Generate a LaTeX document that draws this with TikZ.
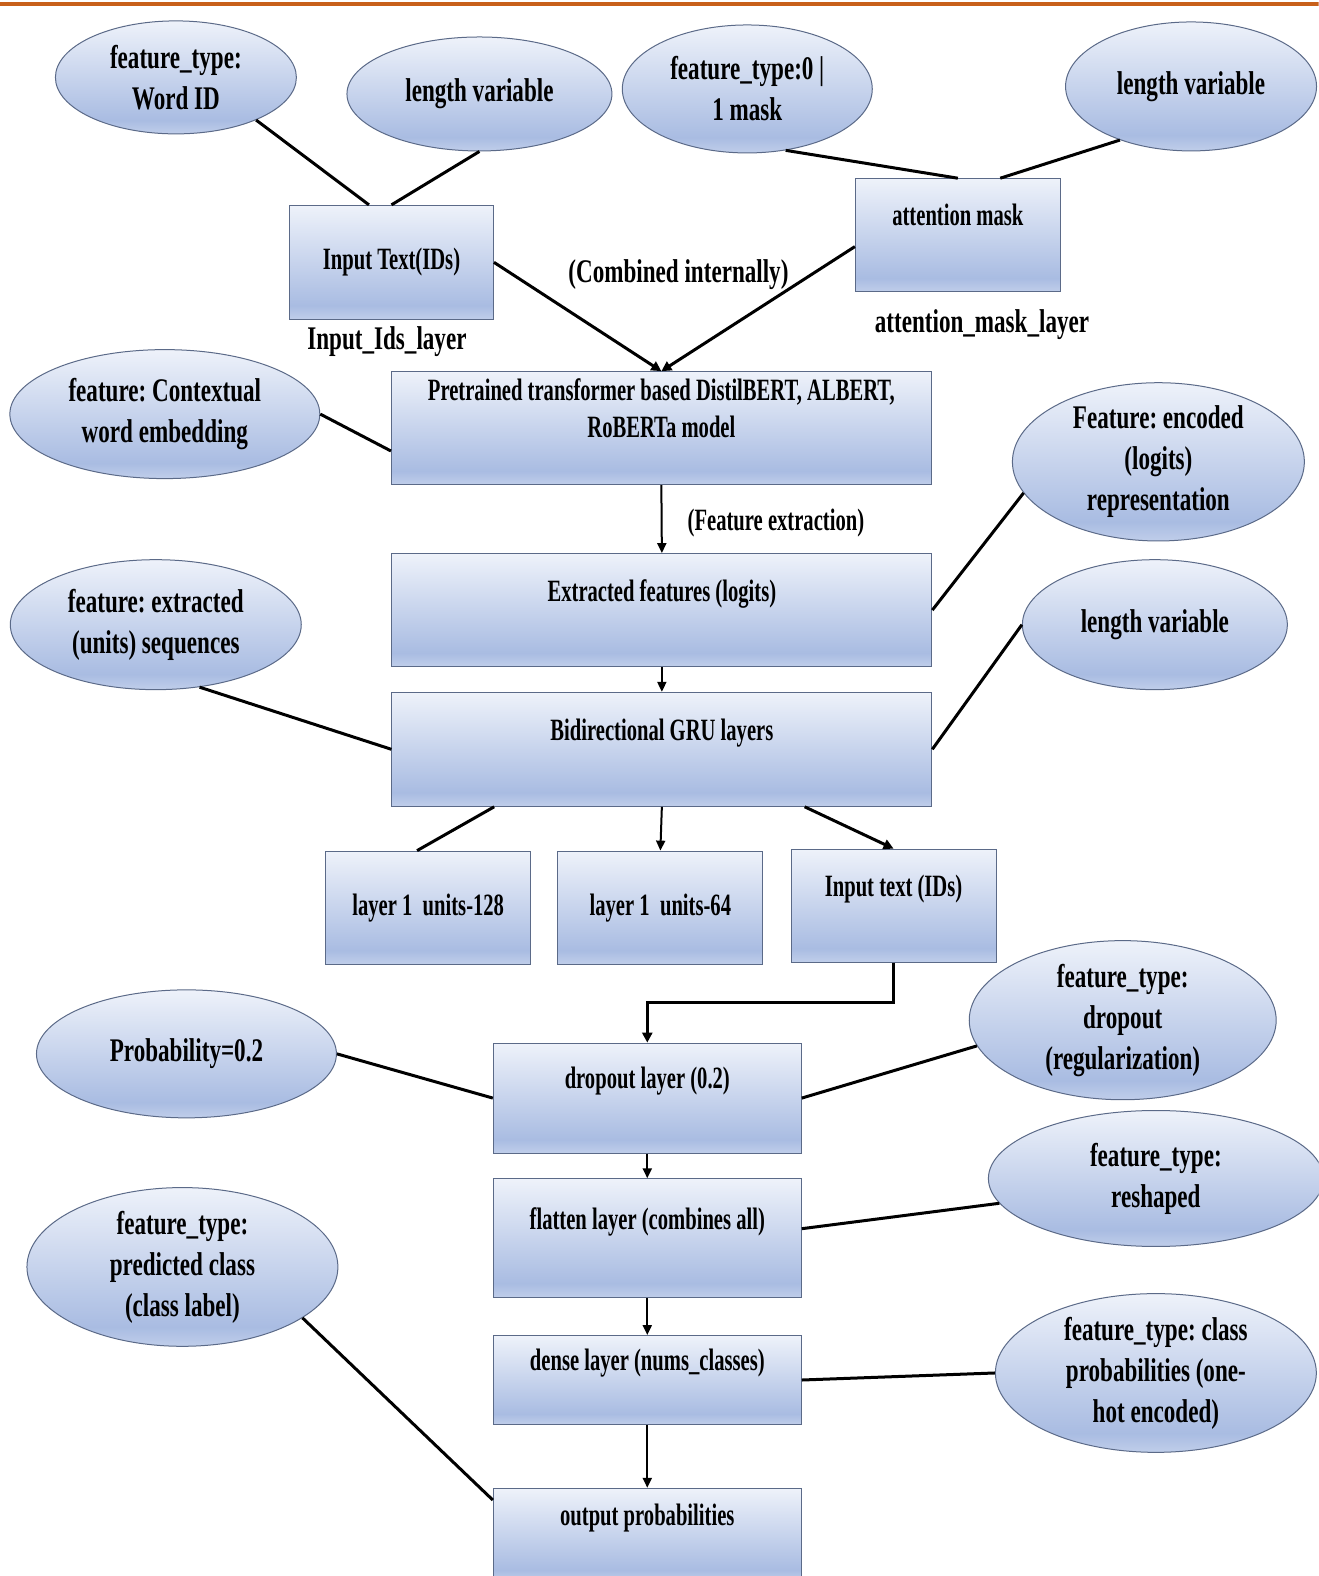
\documentclass[tikz,border=0pt]{standalone}
\usepackage{fontspec}
\setmainfont{Liberation Serif}[FakeStretch=0.70]
\newfontfamily\boxfont{Liberation Serif}[FakeStretch=0.665]
\usetikzlibrary{shapes.geometric,calc,arrows.meta}
\definecolor{gtop}{HTML}{EEF2FA}
\definecolor{gmid}{HTML}{A9BCE2}
\definecolor{gbot}{HTML}{C0CEEA}
\definecolor{edgec}{HTML}{5B6A88}
\definecolor{topline}{HTML}{C8601A}
\pgfdeclareverticalshading{office}{100bp}{color(0bp)=(gbot); color(25bp)=(gbot); color(31bp)=(gmid); color(75bp)=(gtop); color(100bp)=(gtop)}
\tikzset{
  base/.style={font=\fontsize{33}{41}\selectfont\bfseries\frenchspacing, text=black},
  small/.style={font=\boxfont\fontsize{31}{37}\selectfont\bfseries\frenchspacing, text=black},
  box/.style={small, draw=edgec, line width=1pt, shading=office, rectangle, inner sep=0pt, align=center},
  boxup/.style={box, text depth=40pt},
  ell/.style={base, draw=edgec, line width=1pt, shading=office, ellipse, inner sep=0pt, align=center},
  conn/.style={line width=3pt, black},
  arr/.style={conn, -{Triangle[length=10pt,width=10pt]}},
  arrv/.style={line width=2pt, black, -{Triangle[length=10pt,width=9pt]}},
  lbl/.style={base}
}
\begin{document}
\begin{tikzpicture}[x=1.0053pt, y=-1.0053pt]
\useasboundingbox (0,0) rectangle (1312,1568);
\begin{scope}
\clip (0,0) rectangle (1312,1568);
\fill[white] (0,0) rectangle (1312,1568);
\draw[topline, line width=4pt] (0,4) -- (1312,4);

% boxes
\node[box, minimum width=204pt, minimum height=114pt] (b1) at (389.5,261) {Input Text(IDs)};
\node[boxup, minimum width=205pt, minimum height=113pt] (b2) at (953,234) {attention mask};
\node[boxup, minimum width=540pt, minimum height=113pt] (b3) at (658,426) {Pretrained transformer based DistilBERT, ALBERT,\\RoBERTa model};
\node[boxup, minimum width=540pt, minimum height=113pt] (b4) at (658.5,607) {Extracted features (logits)};
\node[boxup, minimum width=540pt, minimum height=114pt] (b5) at (658.5,745.5) {Bidirectional GRU layers};
\node[box, minimum width=205pt, minimum height=113pt] (b6) at (426,903) {layer 1\ \ units-128};
\node[box, minimum width=205pt, minimum height=113pt] (b7) at (657,903) {layer 1\ \ units-64};
\node[boxup, minimum width=205pt, minimum height=113pt] (b8) at (889,901) {Input text (IDs)};
\node[boxup, minimum width=308pt, minimum height=110pt] (b9) at (644,1092.5) {dropout layer (0.2)};
\node[boxup, minimum width=308pt, minimum height=119pt] (b10) at (644,1232) {flatten layer (combines all)};
\node[boxup, minimum width=308pt, minimum height=89pt] (b11) at (644,1373) {dense layer (nums\_classes)};
\node[boxup, minimum width=308pt, minimum height=93pt] (b12) at (644,1527) {output probabilities};

% ellipses
\node[ell, minimum width=241pt, minimum height=113pt] (e1) at (175,77) {feature\_type:\\Word ID};
\node[ell, minimum width=265pt, minimum height=114pt] (e2) at (477,93.5) {length variable};
\node[ell, minimum width=250pt, minimum height=128pt] (e3) at (743.5,88.5) {feature\_type:0 |\\1 mask};
\node[ell, minimum width=251pt, minimum height=129pt] (e4) at (1185,86) {length variable};
\node[ell, minimum width=310pt, minimum height=129pt] (e5) at (164,412) {feature: Contextual\\word embedding};
\node[ell, minimum width=292pt, minimum height=130pt] (e6) at (1152.5,459.5) {Feature: encoded\\(logits)\\representation};
\node[ell, minimum width=291pt, minimum height=130pt] (e7) at (155,621.5) {feature: extracted\\(units) sequences};
\node[ell, minimum width=265pt, minimum height=130pt] (e8) at (1149,621.5) {length variable};
\node[ell, minimum width=300pt, minimum height=128pt] (e9) at (185.5,1048.5) {Probability=0.2};
\node[ell, minimum width=307pt, minimum height=131pt] (e10) at (1117,1015) {feature\_type:\\dropout\\(regularization)};
\node[ell, minimum width=335pt, minimum height=136pt] (e11) at (1150,1172.5) {feature\_type:\\reshaped};
\node[ell, minimum width=321pt, minimum height=127pt] (e12) at (1150,1366) {feature\_type: class\\probabilities (one-\\hot encoded)};
\node[ell, minimum width=311pt, minimum height=130pt] (e13) at (181.5,1260.5) {feature\_type:\\predicted class\\(class label)};

% labels
\node[lbl] (l1) at (385,340) {Input\_Ids\_layer};
\node[lbl] (l2) at (977,323) {attention\_mask\_layer};
\node[lbl] (l3) at (675,273) {(Combined internally)};
\node[small] (l4) at (772,520) {(Feature extraction)};

% connectors
\draw[conn] (e1.-28) -- ($(b1.north west)!0.39!(b1.north east)$);
\draw[conn] (e2.south) -- (b1.north);
\draw[conn] (e3.-58) -- (b2.north);
\draw[conn] (e4.-143) -- ($(b2.north west)!0.706!(b2.north east)$);
\draw[arr] (b1.east) -- (b3.north);
\draw[arr] ($(b2.north west)!0.6!(b2.south west)$) -- (b3.north);
\draw[conn] (e5.east) -- ($(b3.north west)!0.7!(b3.south west)$);
\draw[arrv] (b3.south) -- (b4.north);
\draw[conn] (e6.193) -- (b4.east);
\draw[arrv] (b4.south) -- (b5.north);
\draw[conn] (e7.-55) -- (b5.west);
\draw[conn] (e8.west) -- (b5.east);
\draw[conn] ($(b5.south west)!0.19!(b5.south east)$) -- ($(b6.north west)!0.446!(b6.north east)$);
\draw[arrv] (b5.south) -- (b7.north);
\draw[arr] ($(b5.south west)!0.764!(b5.south east)$) -- (b8.north);
\draw[arr] (b8.south) -- ++(0,40) -| (b9.north);
\draw[conn] (e9.east) -- (b9.west);
\draw[conn] (e10.190) -- (b9.east);
\draw[arrv] (b9.south) -- (b10.north);
\draw[conn] (e11.189) -- ($(b10.north east)!0.42!(b10.south east)$);
\draw[arrv] (b10.south) -- (b11.north);
\draw[conn] (e12.west) -- (b11.east);
\draw[arrv] (b11.south) -- (b12.north);
\draw[conn] (e13.-23) -- ($(b12.north west)!0.13!(b12.south west)$);
\end{scope}
\end{tikzpicture}
\end{document}
